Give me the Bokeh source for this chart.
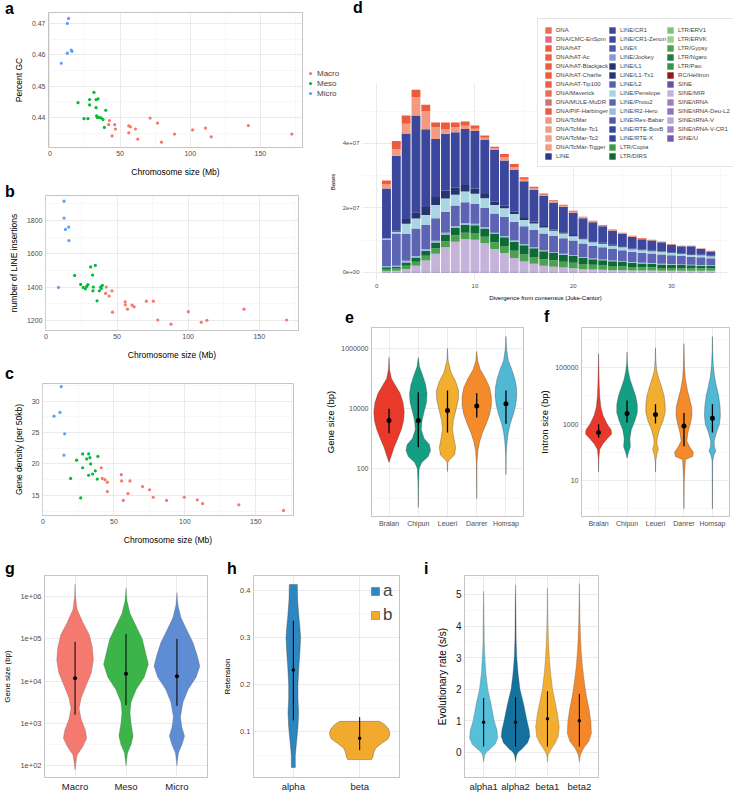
from bokeh.plotting import figure
from bokeh.layouts import row
from bokeh.models import (FixedTicker, Legend, LegendItem, ColumnDataSource, GridBox, Div,
                          PrintfTickFormatter)
from bokeh.embed import file_html
from bokeh.resources import INLINE

# ======================= DATA =======================
GROUPS = ["Macro", "Meso", "Micro"]

# panel a : chromosome size (Mb) vs percent GC
A_MACRO_SIZE = [42.4, 41.9, 46.2, 46.7, 44.3, 56.2, 57.4, 56.2, 61.0, 62.6, 71.4, 76.7, 79.5, 88.8, 101.7, 110.9, 115.0, 141.4, 172.4]
A_MACRO_GC = [0.4390, 0.4377, 0.4377, 0.4363, 0.4341, 0.4373, 0.4370, 0.4351, 0.4363, 0.4331, 0.4398, 0.4382, 0.4321, 0.4347, 0.4360, 0.4366, 0.4338, 0.4374, 0.4347]
A_MESO_SIZE = [20.0, 24.3, 27.1, 28.3, 28.3, 31.4, 32.9, 32.9, 34.3, 33.3, 33.8, 35.2, 36.7, 37.9, 38.8, 39.8]
A_MESO_GC = [0.4447, 0.4396, 0.4396, 0.4457, 0.4440, 0.4480, 0.4431, 0.4457, 0.4459, 0.4405, 0.4400, 0.4400, 0.4398, 0.4393, 0.4368, 0.4423]
A_MICRO_SIZE = [8.1, 12.4, 12.4, 13.3, 15.2, 15.7]
A_MICRO_GC = [0.4573, 0.4605, 0.4700, 0.4716, 0.4615, 0.4611]

# panel b : chromosome size vs number of LINE insertions
B_MACRO_SIZE = [42.4, 46.4, 41.9, 44.4, 55.7, 55.8, 57.3, 60.6, 62.0, 46.8, 70.6, 75.5, 78.6, 87.9, 100.1, 109.2, 113.2, 139.3, 169.2]
B_MACRO_LINE = [1400, 1378, 1362, 1346, 1312, 1294, 1268, 1292, 1282, 1250, 1316, 1316, 1203, 1178, 1253, 1189, 1201, 1268, 1203]
B_MESO_SIZE = [20.2, 24.4, 27.7, 28.6, 31.4, 34.7, 32.8, 33.3, 33.0, 37.5, 38.4, 39.6, 35.9, 29.5, 26.2, 38.9]
B_MESO_LINE = [1470, 1416, 1390, 1404, 1521, 1530, 1472, 1400, 1378, 1378, 1400, 1410, 1318, 1415, 1398, 1392]
B_MICRO_SIZE = [12.7, 12.7, 13.7, 16.0, 16.1, 8.8]
B_MICRO_LINE = [1915, 1814, 1746, 1760, 1679, 1398]

# panel c : chromosome size vs gene density (per 50kb)
C_MACRO_SIZE = [41.1, 41.8, 43.7, 45.4, 55.2, 55.4, 61.3, 70.2, 75.1, 45.4, 59.9, 56.6, 77.7, 87.1, 99.6, 108.7, 112.5, 138.0, 169.5]
C_MACRO_DENS = [19.4, 17.7, 17.5, 17.1, 18.3, 17.3, 17.3, 16.4, 15.9, 15.6, 15.3, 14.2, 14.7, 14.2, 14.7, 14.3, 13.7, 13.5, 12.6]
C_MESO_SIZE = [23.7, 28.0, 28.0, 30.8, 32.2, 33.1, 33.6, 32.2, 35.0, 36.9, 38.3, 38.7, 19.5, 26.6]
C_MESO_DENS = [20.6, 21.6, 19.4, 20.8, 21.6, 21.0, 20.0, 18.2, 18.4, 18.9, 17.6, 21.2, 17.7, 14.6]
C_MICRO_SIZE = [12.9, 12.0, 7.8, 15.3, 14.8]
C_MICRO_DENS = [32.3, 28.2, 27.6, 24.8, 21.4]

# panel d : repeat landscape, bases per divergence bin (units of 1e7 bases)
D_BIN = [1, 2, 3, 4, 5, 6, 7, 8, 9, 10, 11, 12, 13, 14, 15, 16, 17, 18, 19, 20, 21, 22, 23, 24, 25, 26, 27, 28, 29, 30, 31, 32, 33, 34]
D_SINE_U = [0.02, 0.02, 0.03, 0.03, 0.03, 0.03, 0.03, 0.03, 0.03, 0.03, 0.03, 0.03, 0.03, 0.03, 0.03, 0.03, 0.03, 0.03, 0.03, 0.03, 0.02, 0.02, 0.02, 0.02, 0.02, 0.02, 0.02, 0.02, 0.02, 0.02, 0.02, 0.02, 0.02, 0.02]
D_SINE_MIR = [0.02, 0.03, 0.08, 0.18, 0.34, 0.55, 0.75, 0.92, 1.00, 0.98, 0.88, 0.70, 0.57, 0.42, 0.31, 0.24, 0.18, 0.15, 0.12, 0.10, 0.08, 0.07, 0.06, 0.05, 0.05, 0.04, 0.04, 0.04, 0.03, 0.03, 0.03, 0.03, 0.03, 0.03]
D_LTR_GYPSY = [0.07, 0.07, 0.10, 0.12, 0.15, 0.17, 0.19, 0.20, 0.20, 0.20, 0.20, 0.21, 0.22, 0.22, 0.22, 0.21, 0.20, 0.19, 0.18, 0.17, 0.16, 0.15, 0.14, 0.13, 0.12, 0.11, 0.10, 0.10, 0.09, 0.09, 0.08, 0.08, 0.08, 0.07]
D_LTR_DIRS = [0.05, 0.05, 0.10, 0.13, 0.15, 0.18, 0.21, 0.23, 0.25, 0.25, 0.25, 0.25, 0.27, 0.28, 0.28, 0.27, 0.25, 0.23, 0.22, 0.21, 0.19, 0.17, 0.16, 0.15, 0.14, 0.13, 0.12, 0.11, 0.11, 0.10, 0.10, 0.09, 0.08, 0.08]
D_LINE_R2 = [0.03, 0.04, 0.05, 0.05, 0.05, 0.05, 0.05, 0.05, 0.05, 0.05, 0.04, 0.04, 0.04, 0.04, 0.04, 0.03, 0.03, 0.03, 0.03, 0.03, 0.03, 0.02, 0.02, 0.02, 0.02, 0.02, 0.02, 0.02, 0.02, 0.02, 0.02, 0.02, 0.02, 0.02]
D_LINE_PROTO2 = [0.83, 1.00, 0.83, 0.85, 0.75, 0.70, 0.65, 0.65, 0.65, 0.62, 0.60, 0.60, 0.60, 0.58, 0.55, 0.54, 0.52, 0.50, 0.48, 0.45, 0.42, 0.40, 0.38, 0.36, 0.34, 0.32, 0.31, 0.30, 0.29, 0.27, 0.26, 0.25, 0.24, 0.22]
D_LINE_PENELOPE = [0.03, 0.05, 0.32, 0.31, 0.31, 0.41, 0.41, 0.33, 0.33, 0.31, 0.30, 0.26, 0.26, 0.24, 0.20, 0.20, 0.18, 0.16, 0.15, 0.13, 0.13, 0.11, 0.11, 0.10, 0.09, 0.08, 0.08, 0.07, 0.08, 0.07, 0.06, 0.06, 0.06, 0.06]
D_LINE_L1 = [0.00, 0.03, 0.15, 0.20, 0.25, 0.25, 0.25, 0.22, 0.20, 0.16, 0.13, 0.10, 0.08, 0.07, 0.06, 0.05, 0.05, 0.04, 0.04, 0.04, 0.03, 0.03, 0.03, 0.03, 0.03, 0.02, 0.02, 0.02, 0.02, 0.02, 0.02, 0.02, 0.02, 0.02]
D_LINE_CR1 = [1.55, 2.33, 2.65, 3.00, 2.41, 1.80, 1.76, 1.72, 1.74, 1.79, 1.69, 1.61, 1.40, 1.30, 1.14, 0.99, 0.93, 0.84, 0.79, 0.69, 0.62, 0.59, 0.51, 0.43, 0.38, 0.36, 0.32, 0.31, 0.28, 0.24, 0.22, 0.24, 0.18, 0.13]
D_DNA_TCMAR = [0.13, 0.20, 0.30, 0.57, 0.57, 0.36, 0.15, 0.15, 0.10, 0.07, 0.06, 0.05, 0.10, 0.09, 0.06, 0.05, 0.04, 0.04, 0.03, 0.03, 0.03, 0.02, 0.02, 0.02, 0.02, 0.02, 0.01, 0.01, 0.01, 0.01, 0.01, 0.01, 0.01, 0.01]
D_DNA_HAT = [0.12, 0.26, 0.26, 0.23, 0.19, 0.15, 0.20, 0.15, 0.13, 0.10, 0.07, 0.05, 0.10, 0.09, 0.06, 0.05, 0.04, 0.03, 0.03, 0.03, 0.02, 0.02, 0.02, 0.02, 0.02, 0.02, 0.02, 0.01, 0.01, 0.01, 0.01, 0.01, 0.01, 0.01]
D_Y_TICKS = [0, 2, 4]
D_Y_LABELS = ["0e+00", "2e+07", "4e+07"]

D_CLASSES = ["DNA", "DNA/CMC-EnSpm", "DNA/hAT", "DNA/hAT-Ac", "DNA/hAT-Blackjack", "DNA/hAT-Charlie",
             "DNA/hAT-Tip100", "DNA/Maverick", "DNA/MULE-MuDR", "DNA/PIF-Harbinger", "DNA/TcMar",
             "DNA/TcMar-Tc1", "DNA/TcMar-Tc2", "DNA/TcMar-Tigger", "LINE",
             "LINE/CR1", "LINE/CR1-Zenon", "LINE/I", "LINE/Jockey", "LINE/L1", "LINE/L1-Tx1", "LINE/L2",
             "LINE/Penelope", "LINE/Proto2", "LINE/R2-Hero", "LINE/Rex-Babar", "LINE/RTE-BovB",
             "LINE/RTE-X", "LTR/Copia", "LTR/DIRS",
             "LTR/ERV1", "LTR/ERVK", "LTR/Gypsy", "LTR/Ngaro", "LTR/Pao", "RC/Helitron", "SINE",
             "SINE/MIR", "SINE/tRNA", "SINE/tRNA-Deu-L2", "SINE/tRNA-V", "SINE/tRNA-V-CR1", "SINE/U"]
D_CLASS_COLORS = ["#EE6A50", "#E8608A", "#EF5A3D", "#EE5D40", "#EE5B3E", "#EE5A3C",
                  "#EE5E42", "#EC6D55", "#D2707A", "#EF5A3D", "#F3957B",
                  "#F49A80", "#F59D83", "#F49A80", "#28388A",
                  "#3A479C", "#3C48A4", "#4658B0", "#8A98CF", "#263470", "#263678", "#5A60B0",
                  "#A8D6E2", "#5D64B3", "#97BCDD", "#5259A9", "#3646A0",
                  "#35449C", "#3F9C46", "#0E6A35",
                  "#7DC47F", "#99CF90", "#4BA150", "#1F7A3D", "#35934A", "#8E1B1B", "#6C4FA3",
                  "#C6B3DA", "#9C7EC2", "#9274BC", "#BBA8D6", "#A083C6", "#7659AC"]

# panels e / f : gene and intron size violins (profiles: log10 value, half width)
EF_SPECIES = ["Bralan", "Chipun", "Leueri", "Danrer", "Homsap"]
E_BRALAN = [(5.7, 0.0), (5.3, 0.02), (5.0, 0.08), (4.8, 0.2), (4.5, 0.38), (4.2, 0.48), (3.9, 0.52), (3.6, 0.5), (3.3, 0.42), (3.0, 0.3), (2.7, 0.17), (2.4, 0.07), (2.2, 0.0)]
E_CHIPUN = [(5.7, 0.0), (5.4, 0.04), (5.1, 0.15), (4.8, 0.25), (4.5, 0.30), (4.2, 0.28), (3.9, 0.20), (3.6, 0.13), (3.3, 0.10), (3.0, 0.20), (2.8, 0.38), (2.6, 0.42), (2.4, 0.34), (2.2, 0.12), (2.0, 0.03), (1.5, 0.01), (0.7, 0.0)]
E_LEUERI = [(6.0, 0.0), (5.6, 0.02), (5.2, 0.12), (4.9, 0.28), (4.6, 0.38), (4.3, 0.37), (4.0, 0.30), (3.6, 0.20), (3.3, 0.17), (3.0, 0.22), (2.7, 0.28), (2.45, 0.24), (2.3, 0.08), (2.2, 0.01), (1.9, 0.0)]
E_DANRER = [(5.9, 0.0), (5.6, 0.03), (5.3, 0.12), (5.0, 0.30), (4.7, 0.44), (4.4, 0.50), (4.1, 0.50), (3.8, 0.44), (3.5, 0.33), (3.2, 0.20), (2.9, 0.10), (2.6, 0.04), (2.2, 0.01), (1.0, 0.0)]
E_HOMSAP = [(6.4, 0.0), (6.0, 0.02), (5.6, 0.08), (5.3, 0.20), (5.0, 0.30), (4.7, 0.36), (4.4, 0.37), (4.1, 0.33), (3.8, 0.25), (3.5, 0.15), (3.2, 0.08), (2.9, 0.04), (2.5, 0.01), (1.8, 0.0)]
E_MID = [4000, 4000, 8500, 12000, 14500]
E_LO = [1500, 510, 1600, 5000, 3100]
E_HI = [9800, 35000, 40000, 32000, 40000]

F_BRALAN = [(5.5, 0.0), (5.0, 0.01), (4.5, 0.02), (4.0, 0.04), (3.6, 0.08), (3.3, 0.16), (3.0, 0.30), (2.8, 0.44), (2.65, 0.46), (2.5, 0.32), (2.3, 0.15), (2.1, 0.04), (1.8, 0.01), (1.3, 0.0)]
F_CHIPUN = [(5.55, 0.0), (5.2, 0.01), (4.9, 0.04), (4.6, 0.10), (4.3, 0.20), (4.0, 0.30), (3.7, 0.36), (3.4, 0.36), (3.1, 0.27), (2.8, 0.15), (2.5, 0.10), (2.2, 0.12), (2.0, 0.05), (1.8, 0.0)]
F_LEUERI = [(5.7, 0.0), (5.3, 0.01), (4.9, 0.04), (4.6, 0.12), (4.3, 0.22), (4.0, 0.30), (3.7, 0.34), (3.4, 0.34), (3.1, 0.26), (2.8, 0.14), (2.5, 0.06), (2.3, 0.05), (2.1, 0.10), (1.95, 0.05), (1.7, 0.01), (1.3, 0.0)]
F_DANRER = [(5.85, 0.0), (5.4, 0.01), (5.0, 0.02), (4.6, 0.05), (4.2, 0.12), (3.9, 0.20), (3.6, 0.27), (3.3, 0.28), (3.0, 0.22), (2.7, 0.14), (2.4, 0.10), (2.2, 0.20), (2.0, 0.33), (1.85, 0.30), (1.75, 0.05), (1.0, 0.01), (0.0, 0.0)]
F_HOMSAP = [(6.1, 0.0), (5.6, 0.01), (5.1, 0.03), (4.7, 0.07), (4.3, 0.15), (4.0, 0.22), (3.6, 0.27), (3.3, 0.28), (3.0, 0.25), (2.7, 0.14), (2.4, 0.06), (2.2, 0.07), (2.05, 0.12), (1.9, 0.05), (1.7, 0.01), (0.0, 0.0)]
F_MID = [500, 2400, 2200, 850, 1600]
F_LO = [330, 1150, 1050, 165, 500]
F_HI = [980, 6800, 5100, 2500, 5100]

# panel g : gene size by chromosome class (log10 value, half width)
G_MACRO = [(6.3, 0.0), (6.0, 0.01), (5.7, 0.04), (5.4, 0.15), (5.1, 0.28), (4.8, 0.34), (4.5, 0.36), (4.2, 0.32), (3.9, 0.22), (3.6, 0.12), (3.35, 0.08), (3.1, 0.12), (2.85, 0.20), (2.65, 0.23), (2.45, 0.15), (2.25, 0.04), (2.0, 0.01), (1.9, 0.0)]
G_MESO = [(6.2, 0.0), (5.9, 0.02), (5.6, 0.08), (5.3, 0.20), (5.0, 0.32), (4.7, 0.38), (4.4, 0.44), (4.1, 0.36), (3.8, 0.20), (3.5, 0.10), (3.25, 0.08), (3.0, 0.10), (2.7, 0.14), (2.5, 0.10), (2.3, 0.03), (2.0, 0.0)]
G_MICRO = [(6.1, 0.0), (5.8, 0.02), (5.5, 0.08), (5.2, 0.20), (4.9, 0.32), (4.6, 0.40), (4.35, 0.45), (4.1, 0.38), (3.8, 0.22), (3.5, 0.12), (3.15, 0.07), (2.9, 0.10), (2.7, 0.15), (2.5, 0.10), (2.3, 0.03), (2.0, 0.0)]
G_MID = [11700, 15000, 13000]
G_LO = [1600, 2700, 2600]
G_HI = [85000, 130000, 100000]
G_TICKS = [100, 1000, 10000, 100000, 1000000]
G_TICK_LABELS = ["1e+02", "1e+03", "1e+04", "1e+05", "1e+06"]

# panel h : retension (value, half width)
H_CATS = ["alpha", "beta"]
H_ALPHA = [(0.412, 0.06), (0.38, 0.065), (0.35, 0.08), (0.32, 0.10), (0.30, 0.11), (0.27, 0.10), (0.24, 0.085), (0.20, 0.07), (0.17, 0.07), (0.14, 0.08), (0.11, 0.07), (0.08, 0.05), (0.05, 0.03), (0.024, 0.03)]
H_BETA = [(0.122, 0.30), (0.115, 0.38), (0.105, 0.44), (0.095, 0.455), (0.085, 0.43), (0.075, 0.33), (0.065, 0.24), (0.055, 0.21), (0.047, 0.20), (0.041, 0.18)]
H_MID = [0.231, 0.086]
H_LO = [0.124, 0.061]
H_HI = [0.335, 0.131]

# panel i : evolutionary rate (value, half width)
I_CATS = ["alpha1", "alpha2", "beta1", "beta2"]
I_ALPHA1 = [(5.1, 0.0), (4.5, 0.01), (4.0, 0.015), (3.5, 0.02), (3.0, 0.04), (2.5, 0.07), (2.0, 0.13), (1.5, 0.24), (1.0, 0.33), (0.7, 0.42), (0.45, 0.44), (0.25, 0.36), (0.1, 0.2), (0.0, 0.08), (-0.1, 0.03), (-0.3, 0.0)]
I_ALPHA2 = [(5.3, 0.0), (4.8, 0.01), (4.2, 0.015), (3.6, 0.02), (3.0, 0.04), (2.5, 0.08), (2.0, 0.14), (1.5, 0.26), (1.0, 0.36), (0.7, 0.43), (0.5, 0.45), (0.3, 0.38), (0.1, 0.2), (0.0, 0.08), (-0.1, 0.03), (-0.3, 0.0)]
I_BETA1 = [(5.2, 0.0), (4.6, 0.01), (4.0, 0.02), (3.5, 0.035), (3.0, 0.06), (2.5, 0.10), (2.0, 0.16), (1.6, 0.24), (1.2, 0.32), (0.8, 0.37), (0.5, 0.34), (0.3, 0.25), (0.1, 0.12), (0.0, 0.06), (-0.1, 0.02), (-0.3, 0.0)]
I_BETA2 = [(5.35, 0.0), (4.8, 0.01), (4.2, 0.02), (3.6, 0.04), (3.2, 0.06), (2.7, 0.10), (2.2, 0.16), (1.8, 0.22), (1.4, 0.30), (1.0, 0.36), (0.6, 0.38), (0.35, 0.30), (0.15, 0.15), (0.0, 0.07), (-0.1, 0.03), (-0.3, 0.0)]
I_MID = [0.95, 0.95, 1.06, 1.0]
I_LO = [0.18, 0.18, 0.18, 0.18]
I_HI = [1.72, 1.75, 1.93, 1.85]

# ======================= STYLE =======================
FONT = "Liberation Sans"
GRID = "#E4E4E4"
MINOR = "#F1F1F1"
FRAME = "#B5B5B5"
TICKC = "#4D4D4D"
GROUP_COLORS = ["#F8766D", "#00BA38", "#619CFF"]
G_COLORS = ["#F4796F", "#3BB44A", "#5E8DD4"]
EF_COLORS = ["#E8392B", "#149E84", "#F2AE2D", "#F38B2B", "#50B8D5"]
H_COLORS = ["#2E86C1", "#F2AA2E"]
I_COLORS = ["#58BFD9", "#14709C", "#F1AE31", "#F2872B"]


def make_fig(w, h, l, r, t, b, xr, yr, ylog=False, outline=True, transparent=False):
    p = figure(width=w, height=h, x_range=xr, y_range=yr,
               y_axis_type="log" if ylog else "linear",
               output_backend="svg", toolbar_location=None, frame_align=False,
               min_border_left=l, min_border_right=r, min_border_top=t, min_border_bottom=b)
    p.outline_line_color = FRAME if outline else None
    p.outline_line_width = 0.8
    p.background_fill_color = "white"
    p.border_fill_color = None if transparent else "white"
    for ax in p.axis:
        ax.axis_line_color = None
        ax.major_tick_line_color = None
        ax.minor_tick_line_color = None
        ax.major_tick_out = 0
        ax.major_tick_in = 0
        ax.minor_tick_out = 0
        ax.minor_tick_in = 0
        ax.major_label_text_font = FONT
        ax.axis_label_text_font = FONT
        ax.axis_label_text_font_style = "normal"
        ax.major_label_text_color = TICKC
        ax.axis_label_text_color = "black"
        ax.major_label_standoff = 3
        ax.axis_label_standoff = 5
    p.grid.grid_line_color = GRID
    p.grid.grid_line_width = 0.8
    p.grid.minor_grid_line_color = MINOR
    p.grid.minor_grid_line_width = 0.6
    return p


def overlay_fig(w, h, top, left):
    p = figure(width=w, height=h, x_range=(0, 1), y_range=(0, 1), output_backend="svg",
               toolbar_location=None, x_axis_location=None, y_axis_location=None, min_border=0,
               frame_align=False, margin=(top, 0, 0, left))
    p.outline_line_color = None
    p.background_fill_color = None
    p.border_fill_color = None
    p.grid.grid_line_color = None
    return p


def tag(text, top, left):
    return Div(text=text, width=16, height=18, margin=(top, 0, 0, left),
               styles={"font-family": FONT, "font-size": "16px", "font-weight": "bold",
                       "line-height": "16px", "color": "black"})


def violin(p, center, prof, color, log=False, line_color="#444444", line_alpha=0.6, lw=0.6):
    vals = [v for v, _ in prof]
    hw = [w for _, w in prof]
    xs = [center + w for w in hw] + [center - w for w in hw[::-1]]
    ys = vals + vals[::-1]
    if log:
        ys = [10 ** v for v in ys]
    return p.patch(xs, ys, fill_color=color, line_color=line_color, line_alpha=line_alpha, line_width=lw)


def pointrange(p, xs, mid, lo, hi, size, lw):
    p.segment(x0=xs, y0=lo, x1=xs, y1=hi, line_color="black", line_width=lw)
    p.scatter(xs, mid, size=size, fill_color="black", line_color=None)


def scatter_panel(p, sets, xlabel, ylabel, fs_tick="7px", fs_lab="8.5px"):
    for (xs, ys), c in zip(sets, GROUP_COLORS):
        p.scatter(xs, ys, size=3.2, fill_color=c, line_color=None)
    p.xaxis.axis_label = xlabel
    p.yaxis.axis_label = ylabel
    p.xaxis.ticker = FixedTicker(ticks=[0, 50, 100, 150], minor_ticks=[25, 75, 125, 175])
    for ax in p.axis:
        ax.major_label_text_font_size = fs_tick
        ax.axis_label_text_font_size = fs_lab
    p.xaxis.axis_label_standoff = 8


# ======================= PANEL a =======================
pa = make_fig(346, 182, 48, 44, 12, 35, (-1, 180), (0.4304, 0.4735))
scatter_panel(pa, [(A_MACRO_SIZE, A_MACRO_GC), (A_MESO_SIZE, A_MESO_GC), (A_MICRO_SIZE, A_MICRO_GC)],
              "Chromosome size (Mb)", "Percent GC")
pa.yaxis.ticker = FixedTicker(ticks=[0.44, 0.45, 0.46, 0.47], minor_ticks=[0.435, 0.445, 0.455, 0.465])

# legend of panel a, on its own transparent canvas beside the panel
plega = overlay_fig(44, 34, 66, 306)
items_a = []
for g, c in zip(GROUPS, GROUP_COLORS):
    r = plega.scatter(x=[-5], y=[-5], size=3.2, fill_color=c, line_color=None)
    items_a.append(LegendItem(label=g, renderers=[r]))
plega.add_layout(Legend(items=items_a, location=(0, 2), label_text_font=FONT, label_text_font_size="8px",
                        glyph_width=8, glyph_height=10, label_height=10, label_width=10, spacing=0,
                        padding=1, margin=0, label_standoff=3, border_line_color=None,
                        background_fill_alpha=0))

# ======================= PANEL b =======================
pb = make_fig(322, 180, 45, 24, 13, 31, (-0.35, 177.6), (1140, 1949))
scatter_panel(pb, [(B_MACRO_SIZE, B_MACRO_LINE), (B_MESO_SIZE, B_MESO_LINE), (B_MICRO_SIZE, B_MICRO_LINE)],
              "Chromosome size (Mb)", "number of LINE insertions")
pb.yaxis.ticker = FixedTicker(ticks=[1200, 1400, 1600, 1800], minor_ticks=[1300, 1500, 1700, 1900])

# ======================= PANEL c =======================
pc = make_fig(322, 186, 42, 29, 21, 33, (-0.3, 176.5), (11.8, 32.8))
scatter_panel(pc, [(C_MACRO_SIZE, C_MACRO_DENS), (C_MESO_SIZE, C_MESO_DENS), (C_MICRO_SIZE, C_MICRO_DENS)],
              "Chromosome size (Mb)", "Gene density (per 50kb)")
pc.yaxis.ticker = FixedTicker(ticks=[15, 20, 25, 30], minor_ticks=[12.5, 17.5, 22.5, 27.5, 32.5])

# ======================= PANEL d =======================
pd_ = make_fig(411, 305, 40, 5, 83, 25, (-1.44, 35.8), (-0.25, 5.86), outline=False, transparent=True)
stack = [("SINE/U", D_SINE_U), ("SINE/MIR", D_SINE_MIR), ("LTR/Gypsy", D_LTR_GYPSY),
         ("LTR/DIRS", D_LTR_DIRS), ("LINE/R2-Hero", D_LINE_R2), ("LINE/Proto2", D_LINE_PROTO2),
         ("LINE/Penelope", D_LINE_PENELOPE), ("LINE/L1", D_LINE_L1), ("LINE/CR1", D_LINE_CR1),
         ("DNA/TcMar-Tigger", D_DNA_TCMAR), ("DNA/hAT-Charlie", D_DNA_HAT)]
data = {"x": D_BIN}
for name, vals in stack:
    data[name] = vals
src = ColumnDataSource(data)
colmap = dict(zip(D_CLASSES, D_CLASS_COLORS))
stack_names = [n for n, _ in stack]
pd_.vbar_stack(stack_names, x="x", width=0.9, source=src,
               fill_color=[colmap[n] for n in stack_names], line_color=None)
pd_.xaxis.ticker = FixedTicker(ticks=[0, 10, 20, 30], minor_ticks=[5, 15, 25, 35])
pd_.yaxis.ticker = FixedTicker(ticks=D_Y_TICKS, minor_ticks=[1, 3, 5])
pd_.yaxis.major_label_overrides = dict(zip(D_Y_TICKS, D_Y_LABELS))
pd_.xaxis.axis_label = "Divergence from consensus (Juke-Cantor)"
pd_.yaxis.axis_label = "Bases"
for ax in pd_.axis:
    ax.major_label_text_font_size = "6px"
    ax.axis_label_text_font_size = "6px"
    ax.axis_label_standoff = 4

# legend of panel d, drawn on its own transparent canvas laid over panel d
pleg = overlay_fig(197, 170, 0, 0)
items = []
for name, colr in zip(D_CLASSES, D_CLASS_COLORS):
    r = pleg.vbar(x=[-5], top=[0], width=0.1, fill_color=colr, line_color=None)
    items.append(LegendItem(label=name, renderers=[r]))
pleg.add_layout(Legend(items=items, location=(1, 3), orientation="vertical", nrows=15,
                       label_text_font=FONT, label_text_font_size="6px", glyph_width=8, glyph_height=8,
                       label_height=9, label_width=10, spacing=0, padding=6, margin=0, label_standoff=4,
                       border_line_color="#CCCCCC", border_line_width=0.8, background_fill_color="white",
                       background_fill_alpha=1))


# ======================= PANELS e, f =======================
def species_panel(p, profiles, mid, lo, hi, ylabel, ticks, minor):
    for i, (prof, colr) in enumerate(zip(profiles, EF_COLORS)):
        violin(p, i + 1, prof, colr, log=True, line_color="#333333", line_alpha=0.55, lw=0.6)
    pointrange(p, [1, 2, 3, 4, 5], mid, lo, hi, 5, 1.3)
    p.xaxis.ticker = FixedTicker(ticks=[1, 2, 3, 4, 5])
    p.xaxis.major_label_overrides = {i + 1: s for i, s in enumerate(EF_SPECIES)}
    p.yaxis.ticker = FixedTicker(ticks=ticks, minor_ticks=minor)
    p.yaxis.formatter = PrintfTickFormatter(format="%d")
    p.yaxis.axis_label = ylabel
    p.xgrid.minor_grid_line_color = None
    for ax in p.axis:
        ax.major_label_text_font_size = "7px"
        ax.axis_label_text_font_size = "9.5px"
        ax.axis_label_standoff = 2


pe = make_fig(214, 243, 45, 13, 22, 32, (0.4, 5.6), (10 ** 0.4, 10 ** 6.7), ylog=True)
species_panel(pe, [E_BRALAN, E_CHIPUN, E_LEUERI, E_DANRER, E_HOMSAP], E_MID, E_LO, E_HI,
              "Gene size (bp)", [100, 10000, 1000000], [10, 1000, 100000])

pf = make_fig(197, 243, 40, 4, 22, 32, (0.4, 5.6), (10 ** -0.27, 10 ** 6.42), ylog=True)
species_panel(pf, [F_BRALAN, F_CHIPUN, F_LEUERI, F_DANRER, F_HOMSAP], F_MID, F_LO, F_HI,
              "Intron size (bp)", [10, 1000, 100000], [1, 100, 10000, 1000000])

# ======================= PANEL g =======================
pg = make_fig(220, 246, 42, 13, 27, 14, (0.4, 3.6), (10 ** 1.72, 10 ** 6.5), ylog=True)
for i, (prof, colr) in enumerate(zip([G_MACRO, G_MESO, G_MICRO], G_COLORS)):
    violin(pg, i + 1, prof, colr, log=True, line_color="#555555", line_alpha=0.5, lw=0.5)
pointrange(pg, [1, 2, 3], G_MID, G_LO, G_HI, 4, 1)
pg.xaxis.ticker = FixedTicker(ticks=[1, 2, 3])
pg.xaxis.major_label_overrides = {i + 1: s for i, s in enumerate(GROUPS)}
pg.yaxis.ticker = FixedTicker(ticks=G_TICKS, minor_ticks=[316.2, 3162, 31623, 316228])
pg.yaxis.major_label_overrides = dict(zip(G_TICKS, G_TICK_LABELS))
pg.yaxis.axis_label = "Gene size (bp)"
pg.xgrid.minor_grid_line_color = None
pg.yaxis.major_label_text_font_size = "7.5px"
pg.yaxis.axis_label_text_font_size = "8px"
pg.xaxis.major_label_text_font_size = "9.5px"
pg.xaxis.major_label_text_color = "#1A1A1A"

# ======================= PANEL h =======================
ph = make_fig(190, 246, 32, 11, 27, 14, (0.4, 2.6), (0.003, 0.431))
rh = [violin(ph, i + 1, prof, colr, line_color="#3A3A3A", line_alpha=0.6, lw=0.6)
      for i, (prof, colr) in enumerate(zip([H_ALPHA, H_BETA], H_COLORS))]
pointrange(ph, [1, 2], H_MID, H_LO, H_HI, 3.5, 1)
ph.xaxis.ticker = FixedTicker(ticks=[1, 2])
ph.xaxis.major_label_overrides = {i + 1: s for i, s in enumerate(H_CATS)}
ph.yaxis.ticker = FixedTicker(ticks=[0.1, 0.2, 0.3, 0.4], minor_ticks=[0.05, 0.15, 0.25, 0.35])
ph.yaxis.axis_label = "Retension"
ph.xgrid.minor_grid_line_color = None
ph.yaxis.major_label_text_font_size = "7.5px"
ph.yaxis.axis_label_text_font_size = "8px"
ph.xaxis.major_label_text_font_size = "9.5px"
ph.xaxis.major_label_text_color = "#1A1A1A"
ph.add_layout(Legend(items=[LegendItem(label="a", renderers=[rh[0]]), LegendItem(label="b", renderers=[rh[1]])],
                     location="top_right", label_text_font=FONT, label_text_font_size="17px",
                     glyph_width=10, glyph_height=10, label_height=24, label_width=12, spacing=0,
                     padding=2, margin=4, label_standoff=3, border_line_color=None, background_fill_alpha=0))

# ======================= PANEL i =======================
pi = make_fig(200, 246, 54, 12, 27, 14, (0.4, 4.6), (-0.8, 5.6))
for i, (prof, colr) in enumerate(zip([I_ALPHA1, I_ALPHA2, I_BETA1, I_BETA2], I_COLORS)):
    violin(pi, i + 1, prof, colr, line_color="#444444", line_alpha=0.5, lw=0.5)
pointrange(pi, [1, 2, 3, 4], I_MID, I_LO, I_HI, 3.5, 1)
pi.xaxis.ticker = FixedTicker(ticks=[1, 2, 3, 4])
pi.xaxis.major_label_overrides = {i + 1: s for i, s in enumerate(I_CATS)}
pi.yaxis.ticker = FixedTicker(ticks=[0, 1, 2, 3, 4, 5], minor_ticks=[-0.5, 0.5, 1.5, 2.5, 3.5, 4.5, 5.5])
pi.yaxis.axis_label = "Evolutionary rate (s/s)"
pi.xgrid.minor_grid_line_color = None
pi.yaxis.major_label_text_font_size = "10px"
pi.yaxis.major_label_text_color = "#1A1A1A"
pi.yaxis.axis_label_text_font_size = "10px"
pi.xaxis.major_label_text_font_size = "9.5px"
pi.xaxis.major_label_text_color = "#1A1A1A"

# ======================= LAYOUT =======================
# column tracks: 0 | 322 | 346 | 536 | 733 ; row tracks: 0 | 182 | 305 | 362 | 548 | 794
bottom = row(pg, ph, pi)
grid = GridBox(
    children=[
        (pa, 0, 0, 1, 2),
        (pb, 1, 0, 2, 1),
        (pc, 3, 0, 1, 1),
        (pd_, 0, 1, 2, 3),
        (pe, 2, 1, 2, 2),
        (pf, 2, 3, 2, 1),
        (bottom, 4, 0, 1, 4),
        (plega, 0, 0, 1, 2),
        (pleg, 0, 3, 1, 1),
        (tag("a", 1, 5), 0, 0, 1, 1),
        (tag("b", 2, 5), 1, 0, 1, 1),
        (tag("c", 4, 5), 3, 0, 1, 1),
        (tag("d", 0, 31), 0, 1, 1, 3),
        (tag("e", 5, 23), 2, 1, 1, 1),
        (tag("f", 4, 8), 2, 3, 1, 1),
        (tag("g", 13, 5), 4, 0, 1, 1),
        (tag("h", 13, 227), 4, 0, 1, 4),
        (tag("i", 13, 424), 4, 0, 1, 4),
    ],
    rows=["182px", "123px", "57px", "186px", "246px"],
    cols=["322px", "24px", "190px", "197px"],
)
open("out.html", "w").write(file_html(grid, INLINE, "figure"))
